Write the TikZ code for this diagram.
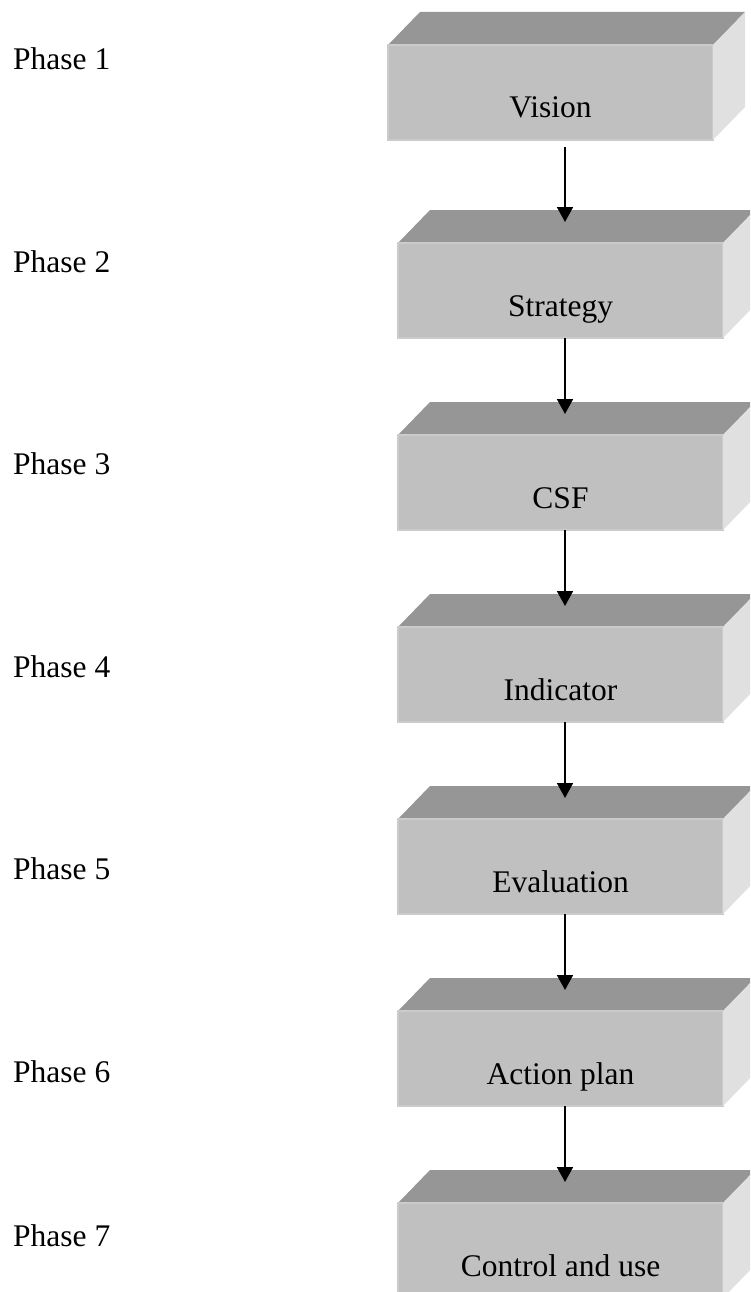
\documentclass[tikz,border=0pt]{standalone}
\usepackage{fontspec}
\setmainfont{Liberation Serif}
\usetikzlibrary{arrows.meta}

\definecolor{facefront}{HTML}{C0C0C0}
\definecolor{facetop}{HTML}{969696}
\definecolor{faceside}{HTML}{E0E0E0}
\definecolor{faceedge}{HTML}{CBCBCB}

\tikzset{
  frontface/.style={rectangle, fill=facefront, draw=faceedge, line width=1.2pt,
    minimum width=325pt, minimum height=95pt, inner sep=0pt, outer sep=0pt,
    anchor=north west},
  topface/.style={fill=facetop},
  sideface/.style={fill=faceside},
  boxlabel/.style={anchor=base, inner sep=0pt, font=\fontsize{31.5}{36}\selectfont},
  phaselabel/.style={anchor=base west, inner sep=0pt, font=\fontsize{31.5}{36}\selectfont},
  flow/.style={line width=1.8pt, -{Triangle[width=16pt,length=15pt]}}
}

% one bevelled 3-D block: #1 name, #2 front top-left corner, #3 text
\newcommand{\phaseblock}[3]{%
  \node[frontface] (#1) at #2 {};
  \fill[topface] (#1.north west) -- ++(32,-33) -- ++(325,0) -- (#1.north east) -- cycle;
  \fill[sideface] (#1.north east) -- ++(32,-33) -- ++(0,95) -- (#1.south east) -- cycle;
  \draw[faceedge, line width=1.2pt] (#1.north west) -- (#1.north east);
  \node[boxlabel] (#1t) at ([yshift=22pt]#1.south) {#3};
}

\begin{document}
\begin{tikzpicture}[x=1pt, y=-1pt]
  \useasboundingbox (0,0) rectangle (750,1292);
  \clip (0,0) rectangle (750,1292);

  % blocks
  \phaseblock{b1}{(388,45)}{Vision}
  \phaseblock{b2}{(398,243)}{Strategy}
  \phaseblock{b3}{(398,435)}{CSF}
  \phaseblock{b4}{(398,627)}{Indicator}
  \phaseblock{b5}{(398,819)}{Evaluation}
  \phaseblock{b6}{(398,1011)}{Action plan}
  \phaseblock{b7}{(398,1203)}{Control and use}

  % phase names
  \node[phaselabel] (p1) at (13,70)   {Phase 1};
  \node[phaselabel] (p2) at (13,272)  {Phase 2};
  \node[phaselabel] (p3) at (13,474)  {Phase 3};
  \node[phaselabel] (p4) at (13,677)  {Phase 4};
  \node[phaselabel] (p5) at (13,879)  {Phase 5};
  \node[phaselabel] (p6) at (13,1082) {Phase 6};
  \node[phaselabel] (p7) at (13,1246) {Phase 7};

  % flow between blocks
  \coordinate (ax) at (565,0);
  \draw[flow] ([yshift=-7pt]b1.south -| ax) -- ([yshift=21pt]b2.north -| ax);
  \draw[flow] (b2.south -| ax) -- ([yshift=21pt]b3.north -| ax);
  \draw[flow] (b3.south -| ax) -- ([yshift=21pt]b4.north -| ax);
  \draw[flow] (b4.south -| ax) -- ([yshift=21pt]b5.north -| ax);
  \draw[flow] (b5.south -| ax) -- ([yshift=21pt]b6.north -| ax);
  \draw[flow] (b6.south -| ax) -- ([yshift=21pt]b7.north -| ax);
\end{tikzpicture}
\end{document}
